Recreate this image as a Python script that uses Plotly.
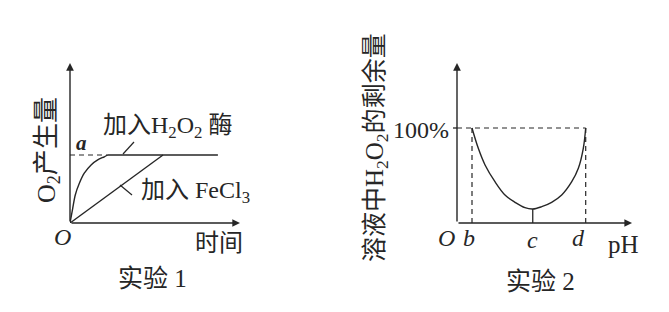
import plotly.graph_objects as go

W, H = 669, 312

# ---------------- data ----------------
# Experiment 1: O2 production vs time (arbitrary units)
t_enzyme = [0, 0.16, 0.31, 0.55, 0.84, 1.24, 1.63, 2.02, 2.22]
o2_enzyme = [0, 0.92, 1.75, 2.48, 3.11, 3.63, 3.94, 4.14, 4.25]
t_plateau = [2.22, 8.7]
o2_plateau = [4.25, 4.25]
t_fecl3 = [0, 5.47]
o2_fecl3 = [0, 4.25]
level_a = 4.25

# Experiment 2: remaining H2O2 (%) vs pH
ph = [1.0, 1.42, 1.87, 2.53, 3.2, 3.87, 4.53, 5.05, 5.65, 6.31, 6.98, 7.65, 8.09, 8.42, 8.58]
remain = [100, 78.6, 61.1, 43.5, 29.5, 21.8, 16.1, 14.7, 17.2, 21.8, 29.5, 43.5, 57.6, 78.6, 100]
ph_b, ph_c, ph_d = 1.0, 5.05, 8.58
min_c = 14.7
full = 100

INK = "#262626"
FONT = "Liberation Serif, Times New Roman, Noto Sans CJK SC, serif"


def px(x):
    return x / W


def py(y):
    return 1 - y / H


fig = go.Figure()

# left chart traces
fig.add_trace(go.Scatter(x=t_enzyme, y=o2_enzyme, mode="lines",
                         line=dict(color=INK, width=1.4, shape="spline", smoothing=0.8),
                         xaxis="x", yaxis="y", hoverinfo="skip"))
fig.add_trace(go.Scatter(x=t_plateau, y=o2_plateau, mode="lines",
                         line=dict(color=INK, width=1.4), xaxis="x", yaxis="y", hoverinfo="skip"))
fig.add_trace(go.Scatter(x=t_fecl3, y=o2_fecl3, mode="lines",
                         line=dict(color=INK, width=1.4), xaxis="x", yaxis="y", hoverinfo="skip"))

# right chart trace
fig.add_trace(go.Scatter(x=ph, y=remain, mode="lines",
                         line=dict(color=INK, width=1.4, shape="spline", smoothing=1.0),
                         xaxis="x2", yaxis="y2", hoverinfo="skip"))

shapes = []
# level a dashed
shapes.append(dict(type="line", xref="x", yref="y", x0=0, x1=t_enzyme[-1], y0=level_a, y1=level_a,
                   line=dict(color=INK, width=1.2, dash="5px,4px")))
# right dashed lines
shapes.append(dict(type="line", xref="x2", yref="y2", x0=0, x1=ph_d, y0=full, y1=full,
                   line=dict(color=INK, width=1.2, dash="5px,4px")))
for xv in (ph_b, ph_d):
    shapes.append(dict(type="line", xref="x2", yref="y2", x0=xv, x1=xv, y0=0, y1=full,
                       line=dict(color=INK, width=1.2, dash="5px,4px")))
shapes.append(dict(type="line", xref="x2", yref="y2", x0=ph_c, x1=ph_c, y0=0, y1=min_c,
                   line=dict(color=INK, width=1.3)))
# 100% tick
shapes.append(dict(type="line", xref="paper", yref="y2", x0=px(453), x1=px(457), y0=full, y1=full,
                   line=dict(color=INK, width=1.3)))
# leader lines
shapes.append(dict(type="line", xref="paper", yref="paper", x0=px(123), y0=py(154), x1=px(134), y1=py(142),
                   line=dict(color=INK, width=1.2)))
shapes.append(dict(type="line", xref="paper", yref="paper", x0=px(120), y0=py(185), x1=px(132), y1=py(195),
                   line=dict(color=INK, width=1.2)))

ann = []
# axis arrows
def arrow(xref, yref, x0, y0, x1, y1):
    ann.append(dict(xref=xref, yref=yref, axref=xref, ayref=yref, x=x1, y=y1, ax=x0, ay=y0,
                    text="", showarrow=True, arrowhead=2, arrowsize=1.1, arrowwidth=1.4,
                    arrowcolor=INK, standoff=0, startstandoff=0))

arrow("x", "y", 0, 0, 10, 0)
arrow("x", "y", 0, 0, 0, 10)
arrow("x2", "y2", 0, 0, 11.67, 0)
arrow("x2", "y2", 0, 0, 0, 168.4)


def text(x, y, s, size=24, xanchor="center", yanchor="middle", angle=0):
    ann.append(dict(xref="paper", yref="paper", x=px(x), y=py(y), text=s, showarrow=False,
                    xanchor=xanchor, yanchor=yanchor, textangle=angle,
                    font=dict(family=FONT, size=size, color=INK)))


text(48, 150, "O<sub>2</sub>产生量", size=26, angle=-90)
text(101, 127, "加入H<sub>2</sub>O<sub>2</sub> 酶", xanchor="left")
text(139, 192, "加入 FeCl<sub>3</sub>", xanchor="left")
text(81, 143, "<b><i>a</i></b>", size=21)
text(62, 237, "<i>O</i>", size=24)
text(219, 243, "时间")
text(152, 278, "实验 1", size=25)

text(376, 148, "溶液中H<sub>2</sub>O<sub>2</sub>的剩余量", size=25, angle=-90)
text(451, 130, "100%", size=24, xanchor="right")
text(446, 238, "<i>O</i>", size=24)
text(469, 238, "<i>b</i>", size=24)
text(532, 240, "<i>c</i>", size=24)
text(578, 238, "<i>d</i>", size=24)
text(623, 244, "pH", size=25)
text(540, 281, "实验 2", size=25)

ax_common = dict(visible=False, showgrid=False, zeroline=False, fixedrange=True)

fig.update_layout(
    width=W, height=H,
    margin=dict(l=0, r=0, t=0, b=0),
    paper_bgcolor="white", plot_bgcolor="rgba(0,0,0,0)",
    showlegend=False,
    xaxis=dict(domain=[px(70), px(240)], range=[0, 10], **ax_common),
    yaxis=dict(domain=[py(223), py(63)], range=[0, 10], **ax_common),
    xaxis2=dict(domain=[px(457), px(637)], range=[0, 12], anchor="y2", **ax_common),
    yaxis2=dict(domain=[py(223), py(63)], range=[0, 168.42], anchor="x2", **ax_common),
    shapes=shapes,
    annotations=ann,
)

fig.write_html("out.html")
